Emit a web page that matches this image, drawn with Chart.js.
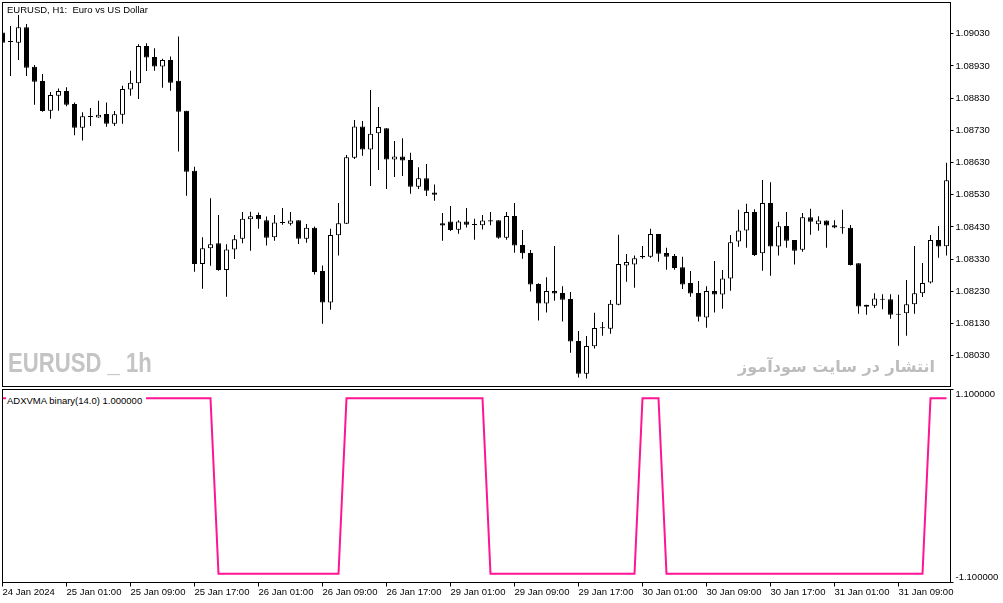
<!DOCTYPE html>
<html lang="en">
<head>
    <meta charset="UTF-8">
    <title>EURUSD H1 - ADXVMA binary</title>
    <script src="https://cdn.jsdelivr.net/npm/chart.js"></script>
    <style>
        body {
            margin: 0;
            width: 1003px;
            height: 603px;
            overflow: hidden;
            position: relative;
            background-color: #ffffff;
            font-family: "Liberation Sans", Arial, sans-serif;
        }
        canvas {
            position: absolute;
            left: 0;
        }
        #priceChart { top: 0; }
        #adxChart { top: 388px; }
        .caption {
            position: absolute;
            font-size: 9.5px;
            line-height: 12px;
            color: #000;
            white-space: nowrap;
        }
        #title { left: 7px; top: 4px; }
        #adxLabel { left: 6px; top: 395px; background: #ffffff; padding: 0 4px 0 1px; }
        #mark {
            position: absolute;
            left: 8px;
            top: 349px;
            font-size: 28px;
            line-height: 28px;
            font-weight: bold;
            color: #c4c4c4;
            white-space: pre;
            transform: scaleX(0.79);
            transform-origin: left top;
        }
        #site {
            position: absolute;
            right: 68px;
            top: 357px;
            font-family: "DejaVu Sans", sans-serif;
            font-size: 16px;
            line-height: 20px;
            font-weight: bold;
            color: #bdbdbd;
            direction: rtl;
            white-space: nowrap;
        }
    </style>
</head>
<body>
    <canvas id="priceChart" width="1003" height="388"></canvas>
    <canvas id="adxChart" width="1003" height="215"></canvas>
    <div class="caption" id="title">EURUSD, H1:&nbsp; Euro vs US Dollar</div>
    <div class="caption" id="adxLabel">ADXVMA binary(14.0) 1.000000</div>
    <div id="mark">EURUSD _ 1h</div>
    <div id="site">انتشار در سایت سودآموز</div>
    <script>
        // hourly bars, 24 Jan 17:00 .. 31 Jan 10:00
        const open = [
            1.09034, 1.09006, 1.09002, 1.09050, 1.08927, 1.08883, 1.08791, 1.08837, 1.08852, 1.08812,
            1.08738, 1.08774, 1.08770, 1.08781, 1.08750, 1.08778, 1.08857, 1.08876, 1.08992, 1.08958,
            1.08928, 1.08948, 1.08884, 1.08791, 1.08604, 1.08315, 1.08364, 1.08379, 1.08296, 1.08360,
            1.08393, 1.08454, 1.08467, 1.08451, 1.08398, 1.08445, 1.08440, 1.08451, 1.08393, 1.08427,
            1.08293, 1.08195, 1.08404, 1.08440, 1.08645, 1.08742, 1.08670, 1.08721, 1.08736, 1.08639,
            1.08649, 1.08638, 1.08555, 1.08581, 1.08537, 1.08441, 1.08447, 1.08421, 1.08447, 1.08439,
            1.08435, 1.08451, 1.08451, 1.08396, 1.08464, 1.08374, 1.08349, 1.08253, 1.08192, 1.08231,
            1.08225, 1.08206, 1.08076, 1.07974, 1.08059, 1.08115, 1.08114, 1.08188, 1.08310, 1.08313,
            1.08340, 1.08337, 1.08408, 1.08349, 1.08340, 1.08305, 1.08256, 1.08225, 1.08149, 1.08231,
            1.08220, 1.08270, 1.08385, 1.08419, 1.08476, 1.08348, 1.08504, 1.08369, 1.08433, 1.08389,
            1.08359, 1.08460, 1.08438, 1.08450, 1.08435, 1.08429, 1.08427, 1.08317, 1.08188, 1.08185,
            1.08204, 1.08205, 1.08160, 1.08162, 1.08190, 1.08224, 1.08257, 1.08389, 1.08370
        ];
        const high = [
            1.09035, 1.09054, 1.09088, 1.09060, 1.08933, 1.08905, 1.08849, 1.08860, 1.08864, 1.08816,
            1.08786, 1.08799, 1.08822, 1.08816, 1.08790, 1.08868, 1.08915, 1.08997, 1.09000, 1.08985,
            1.08952, 1.08959, 1.09021, 1.08791, 1.08617, 1.08398, 1.08519, 1.08467, 1.08376, 1.08405,
            1.08476, 1.08477, 1.08475, 1.08462, 1.08467, 1.08489, 1.08476, 1.08451, 1.08439, 1.08431,
            1.08310, 1.08424, 1.08504, 1.08653, 1.08762, 1.08759, 1.08855, 1.08802, 1.08736, 1.08697,
            1.08705, 1.08660, 1.08615, 1.08625, 1.08562, 1.08473, 1.08495, 1.08451, 1.08489, 1.08455,
            1.08467, 1.08476, 1.08451, 1.08476, 1.08504, 1.08420, 1.08358, 1.08255, 1.08274, 1.08371,
            1.08246, 1.08228, 1.08107, 1.08091, 1.08163, 1.08135, 1.08203, 1.08406, 1.08346, 1.08341,
            1.08371, 1.08424, 1.08408, 1.08365, 1.08346, 1.08337, 1.08293, 1.08262, 1.08246, 1.08324,
            1.08296, 1.08405, 1.08483, 1.08502, 1.08485, 1.08576, 1.08569, 1.08446, 1.08476, 1.08389,
            1.08473, 1.08486, 1.08463, 1.08450, 1.08451, 1.08483, 1.08436, 1.08317, 1.08188, 1.08224,
            1.08221, 1.08221, 1.08219, 1.08265, 1.08371, 1.08318, 1.08405, 1.08433, 1.08629
        ];
        const low = [
            1.09001, 1.08899, 1.08948, 1.08899, 1.08809, 1.08788, 1.08766, 1.08791, 1.08805, 1.08715,
            1.08698, 1.08743, 1.08769, 1.08741, 1.08743, 1.08750, 1.08837, 1.08827, 1.08914, 1.08915,
            1.08862, 1.08853, 1.08664, 1.08527, 1.08291, 1.08238, 1.08309, 1.08294, 1.08213, 1.08330,
            1.08379, 1.08356, 1.08424, 1.08372, 1.08387, 1.08437, 1.08434, 1.08377, 1.08381, 1.08282,
            1.08129, 1.08173, 1.08341, 1.08439, 1.08641, 1.08651, 1.08557, 1.08607, 1.08548, 1.08585,
            1.08588, 1.08533, 1.08548, 1.08526, 1.08511, 1.08387, 1.08417, 1.08409, 1.08428, 1.08390,
            1.08422, 1.08435, 1.08393, 1.08390, 1.08350, 1.08331, 1.08229, 1.08139, 1.08164, 1.08201,
            1.08136, 1.08039, 1.07962, 1.07959, 1.08052, 1.08092, 1.08098, 1.08187, 1.08260, 1.08241,
            1.08331, 1.08334, 1.08322, 1.08297, 1.08297, 1.08237, 1.08213, 1.08136, 1.08117, 1.08164,
            1.08176, 1.08232, 1.08368, 1.08365, 1.08340, 1.08294, 1.08278, 1.08341, 1.08365, 1.08313,
            1.08353, 1.08406, 1.08418, 1.08365, 1.08426, 1.08409, 1.08310, 1.08160, 1.08157, 1.08178,
            1.08174, 1.08145, 1.08061, 1.08092, 1.08160, 1.08212, 1.08254, 1.08334, 1.08341
        ];
        const close = [
            1.09002, 1.09004, 1.09050, 1.08924, 1.08881, 1.08790, 1.08840, 1.08852, 1.08809, 1.08738,
            1.08774, 1.08771, 1.08778, 1.08750, 1.08780, 1.08858, 1.08878, 1.08992, 1.08956, 1.08928,
            1.08948, 1.08878, 1.08788, 1.08601, 1.08315, 1.08364, 1.08376, 1.08296, 1.08360, 1.08392,
            1.08455, 1.08463, 1.08454, 1.08396, 1.08444, 1.08442, 1.08450, 1.08393, 1.08427, 1.08290,
            1.08195, 1.08405, 1.08441, 1.08646, 1.08742, 1.08670, 1.08719, 1.08740, 1.08639, 1.08649,
            1.08636, 1.08555, 1.08581, 1.08542, 1.08530, 1.08434, 1.08420, 1.08447, 1.08437, 1.08436,
            1.08450, 1.08447, 1.08396, 1.08464, 1.08372, 1.08348, 1.08251, 1.08192, 1.08231, 1.08223,
            1.08204, 1.08074, 1.07974, 1.08060, 1.08116, 1.08118, 1.08191, 1.08315, 1.08321, 1.08333,
            1.08336, 1.08408, 1.08347, 1.08337, 1.08302, 1.08251, 1.08223, 1.08151, 1.08231, 1.08220,
            1.08270, 1.08382, 1.08419, 1.08476, 1.08343, 1.08504, 1.08369, 1.08432, 1.08387, 1.08356,
            1.08460, 1.08446, 1.08450, 1.08434, 1.08428, 1.08426, 1.08312, 1.08183, 1.08182, 1.08208,
            1.08206, 1.08157, 1.08157, 1.08190, 1.08224, 1.08256, 1.08389, 1.08369, 1.08575
        ];
        // ADXVMA binary(14) output per bar
        const adx = [
            1, 1, 1, 1, 1, 1, 1, 1, 1, 1,
            1, 1, 1, 1, 1, 1, 1, 1, 1, 1,
            1, 1, 1, 1, 1, 1, 1, -1, -1, -1,
            -1, -1, -1, -1, -1, -1, -1, -1, -1, -1,
            -1, -1, -1, 1, 1, 1, 1, 1, 1, 1,
            1, 1, 1, 1, 1, 1, 1, 1, 1, 1,
            1, -1, -1, -1, -1, -1, -1, -1, -1, -1,
            -1, -1, -1, -1, -1, -1, -1, -1, -1, -1,
            1, 1, 1, -1, -1, -1, -1, -1, -1, -1,
            -1, -1, -1, -1, -1, -1, -1, -1, -1, -1,
            -1, -1, -1, -1, -1, -1, -1, -1, -1, -1,
            -1, -1, -1, -1, -1, -1, 1, 1, 1
        ];

        const xTickBars = [0, 8, 16, 24, 32, 40, 48, 56, 64, 72, 80, 88, 96, 104, 112];
        const xTickLabels = ['24 Jan 2024', '25 Jan 01:00', '25 Jan 09:00', '25 Jan 17:00', '26 Jan 01:00',
            '26 Jan 09:00', '26 Jan 17:00', '29 Jan 01:00', '29 Jan 09:00', '29 Jan 17:00',
            '30 Jan 01:00', '30 Jan 09:00', '30 Jan 17:00', '31 Jan 01:00', '31 Jan 09:00'];
        const priceTicks = [1.08030, 1.08130, 1.08230, 1.08330, 1.08430, 1.08530, 1.08630, 1.08730, 1.08830, 1.08930, 1.09030];
        const adxTicks = [-1.1, 1.1];

        Chart.defaults.font.family = '"Liberation Sans", Arial, sans-serif';
        Chart.defaults.font.size = 9.5;
        Chart.defaults.color = '#000';

        // panel frame, like the terminal draws it
        const frame = {
            id: 'frame',
            afterDatasetsDraw(chart) {
                const { ctx, chartArea: a } = chart;
                ctx.save();
                ctx.strokeStyle = '#000';
                ctx.lineWidth = 1;
                ctx.strokeRect(a.left, a.top, a.right - a.left, a.bottom - a.top);
                ctx.restore();
            }
        };

        // keep the top/bottom scale labels inside the panel
        const edgeLabels = {
            id: 'edgeLabels',
            beforeDraw(chart) {
                const items = chart.scales.y.getLabelItems(chart.chartArea);
                items.forEach((it, i) => {
                    it.options.textBaseline = i === 0 ? 'bottom' : 'top';
                });
            }
        };

        // fixed axis sizes, no extra room for labels at the ends
        const fitY = s => { s.width = 52.5; s.paddingTop = 0; s.paddingBottom = 0; };
        const fitX = s => { s.height = 20.5; s.paddingLeft = 0; s.paddingRight = 0; };

        const bodies = open.map((o, i) => ({ x: i, y: [Math.min(o, close[i]), Math.max(o, close[i])] }));
        const wicks = high.map((h, i) => ({ x: i, y: [low[i], h] }));
        const bodyColors = open.map((o, i) => close[i] >= o ? '#ffffff' : '#000000');

        new Chart(document.getElementById('priceChart'), {
            type: 'bar',
            data: {
                datasets: [
                    {
                        data: bodies,
                        backgroundColor: bodyColors,
                        borderColor: '#000',
                        borderWidth: 1,
                        borderSkipped: false,
                        barThickness: 5,
                        minBarLength: 1,
                        inflateAmount: 0,
                        grouped: false,
                        order: 0
                    },
                    {
                        data: wicks,
                        backgroundColor: '#000',
                        borderWidth: 0,
                        barThickness: 1,
                        inflateAmount: 0,
                        grouped: false,
                        order: 1
                    }
                ]
            },
            options: {
                responsive: false,
                animation: false,
                devicePixelRatio: 1,
                layout: { padding: { left: 2.5, top: 2.5, right: 0, bottom: 1.5 } },
                plugins: { legend: { display: false }, tooltip: { enabled: false } },
                scales: {
                    x: { type: 'linear', display: false, min: 0, max: 118.5, offset: false },
                    y: {
                        type: 'linear',
                        position: 'right',
                        min: 1.0793435,
                        max: 1.091269,
                        beginAtZero: false,
                        afterBuildTicks: s => { s.ticks = priceTicks.map(v => ({ value: v })); },
                        afterFit: fitY,
                        grid: { drawOnChartArea: false, tickLength: 3, tickColor: '#000' },
                        border: { display: false },
                        ticks: { padding: 2, color: '#000', callback: v => v.toFixed(5) }
                    }
                }
            },
            plugins: [frame]
        });

        new Chart(document.getElementById('adxChart'), {
            type: 'line',
            data: {
                datasets: [{
                    data: adx.map((v, i) => ({ x: i, y: v })),
                    borderColor: '#ff1493',
                    borderWidth: 2,
                    pointRadius: 0,
                    tension: 0,
                    fill: false
                }]
            },
            options: {
                responsive: false,
                animation: false,
                devicePixelRatio: 1,
                layout: { padding: { left: 2.5, top: 1.5, right: 0, bottom: 0 } },
                plugins: { legend: { display: false }, tooltip: { enabled: false } },
                scales: {
                    x: {
                        type: 'linear',
                        min: 0,
                        max: 118.5,
                        offset: false,
                        afterBuildTicks: s => { s.ticks = xTickBars.map(v => ({ value: v })); },
                        afterFit: fitX,
                        grid: { drawOnChartArea: false, tickLength: 4, tickColor: '#000' },
                        border: { display: false },
                        ticks: {
                            align: 'start', padding: 0, autoSkip: false, maxRotation: 0, color: '#000',
                            callback: (v, i) => xTickLabels[i]
                        }
                    },
                    y: {
                        type: 'linear',
                        position: 'right',
                        min: -1.1,
                        max: 1.1,
                        afterBuildTicks: s => { s.ticks = adxTicks.map(v => ({ value: v })); },
                        afterFit: fitY,
                        grid: { drawOnChartArea: false, tickLength: 3, tickColor: '#000' },
                        border: { display: false },
                        ticks: { padding: 2, color: '#000', callback: v => v.toFixed(6) }
                    }
                }
            },
            plugins: [frame, edgeLabels]
        });
    </script>
</body>
</html>
